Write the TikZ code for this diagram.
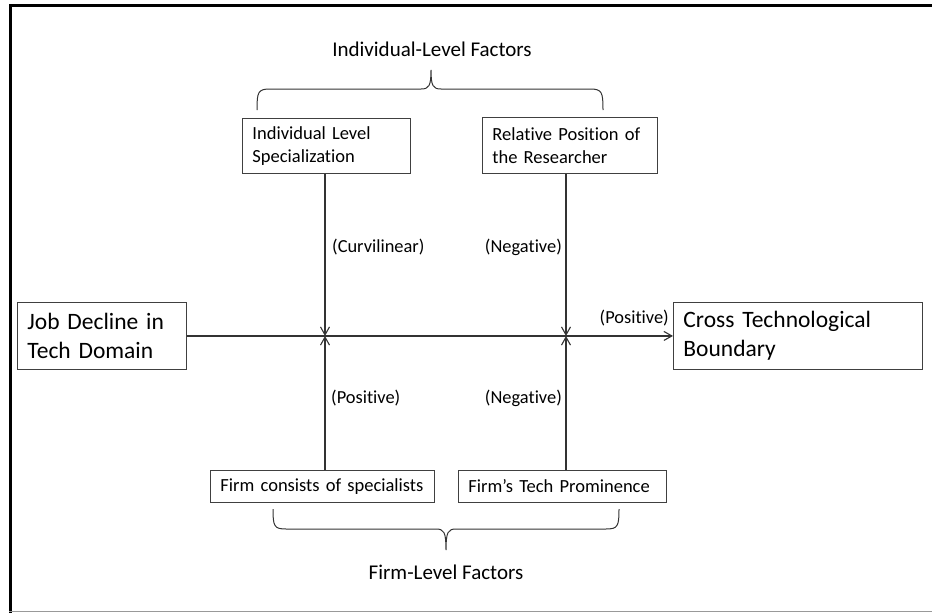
\documentclass[tikz,border=0pt]{standalone}
\usepackage{fontspec}
\setmainfont[Ligatures=NoCommon]{Carlito}
\usetikzlibrary{arrows.meta}
\begin{document}
\begin{tikzpicture}[x=1pt,y=-1pt,
  box/.style={draw=black!75, line width=0.9pt, rectangle, inner xsep=10pt, inner ysep=0pt, align=left, anchor=north west, font=\fontsize{18.5}{22.6}\selectfont},
  bigbox/.style={box, font=\fontsize{23.5}{28.7}\selectfont},
  conn/.style={draw=black!80, line width=1.1pt},
  arr/.style={conn, -{Straight Barb[length=8pt,width=9pt]}},
  lbl/.style={font=\fontsize{18.4}{22}\selectfont, inner sep=0pt},
  head/.style={font=\fontsize{21}{25}\selectfont, inner sep=0pt},
  brace/.style={draw=black!80, line width=1pt}]
\useasboundingbox (0,0) rectangle (932,613);
% frame
\draw[line width=3pt] (10.5,613) -- (10.5,5.5) -- (932,5.5);
\draw[black!40, line width=1.5pt] (9,611.5) -- (932,611.5);
% heads
\node[head] (hi) at (432,49) {Individual-Level Factors};
\node[head] (hf) at (446,572) {Firm-Level Factors};
% braces
\draw[brace] (257,110) .. controls (257,92) and (258,89) .. (270,89) -- (421,89) .. controls (429,89) and (431,86) .. (431,70) .. controls (431,86) and (433,89) .. (441,89) -- (590,89) .. controls (602,89) and (603,92) .. (603,110);
\draw[brace] (273,509) .. controls (273,526) and (274,529) .. (286,529) -- (436,529) .. controls (444,529) and (446,532) .. (446,550) .. controls (446,532) and (448,529) .. (456,529) -- (606,529) .. controls (618,529) and (619,526) .. (619,509);
% boxes
\node[box, minimum height=55pt, text width=148pt] (indiv) at (242,118) {Individual Level\\Specialization};
\node[box, minimum height=56pt, text width=155pt] (rel) at (482,117) {Relative Position of\\the Researcher};
\node[box, minimum height=32pt, text width=204pt] (fcs) at (210,470) {Firm consists of specialists};
\node[box, minimum height=32pt, text width=188pt] (ftp) at (458,470) {Firm’s Tech Prominence};
\node[bigbox, minimum height=67pt, text width=149pt] (job) at (17,302) {Job Decline in\\Tech Domain};
\node[bigbox, minimum height=67pt, text width=229pt] (cross) at (673,302) {Cross Technological\\Boundary};
% meeting points
\coordinate (m1) at (325,336);
\coordinate (m2) at (566,336);
% connectors
\draw[arr] (job.east) -- (cross.west);
\draw[arr] (m1 |- indiv.south) -- (m1);
\draw[arr] (m2 |- rel.south) -- (m2);
\draw[arr] (m1 |- fcs.north) -- (m1);
\draw[arr] (m2 |- ftp.north) -- (m2);
% labels
\node[lbl, anchor=west] (lc) at (332,247) {(Curvilinear)};
\node[lbl, anchor=east] (ln1) at (562,247) {(Negative)};
\node[lbl, anchor=west] (lp1) at (331,398) {(Positive)};
\node[lbl, anchor=east] (ln2) at (562,398) {(Negative)};
\node[lbl, anchor=east] (lp2) at (669,318) {(Positive)};
\end{tikzpicture}
\end{document}
